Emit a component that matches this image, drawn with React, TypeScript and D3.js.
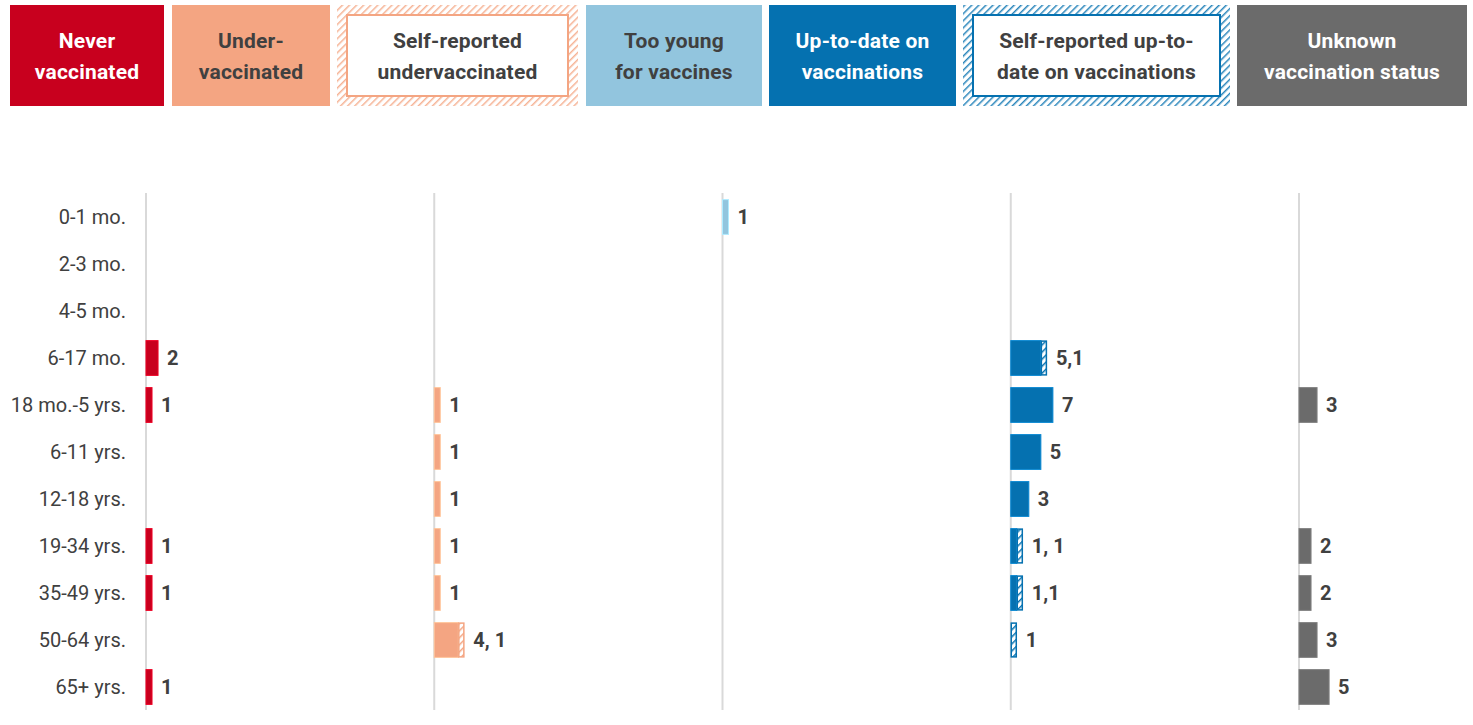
import React from "react";
import * as d3 from "d3";

const categories = [
  "0-1 mo.", "2-3 mo.", "4-5 mo.", "6-17 mo.", "18 mo.-5 yrs.", "6-11 yrs.",
  "12-18 yrs.", "19-34 yrs.", "35-49 yrs.", "50-64 yrs.", "65+ yrs.",
];
const neverVaccinated = [0, 0, 0, 2, 1, 0, 0, 1, 1, 0, 1];
const underVaccinated = [0, 0, 0, 0, 1, 1, 1, 1, 1, 4, 0];
const selfReportedUnder = [0, 0, 0, 0, 0, 0, 0, 0, 0, 1, 0];
const tooYoung = [1, 0, 0, 0, 0, 0, 0, 0, 0, 0, 0];
const upToDate = [0, 0, 0, 5, 7, 5, 3, 1, 1, 0, 0];
const selfReportedUpToDate = [0, 0, 0, 1, 0, 0, 0, 1, 1, 1, 0];
const unknownStatus = [0, 0, 0, 0, 3, 0, 0, 2, 2, 3, 5];

const underLabels = ["", "", "", "", "1", "1", "1", "1", "1", "4, 1", ""];
const upToDateLabels = ["", "", "", "5,1", "7", "5", "3", "1, 1", "1,1", "1", ""];

const legendItems = [
  { lines: ["Never", "vaccinated"], color: "#C8001E", hatched: false, text: "#ffffff" },
  { lines: ["Under-", "vaccinated"], color: "#F4A582", hatched: false, text: "#404040" },
  { lines: ["Self-reported", "undervaccinated"], color: "#F4A582", hatched: true, text: "#404040" },
  { lines: ["Too young", "for vaccines"], color: "#92C5DE", hatched: false, text: "#404040" },
  { lines: ["Up-to-date on", "vaccinations"], color: "#0571B0", hatched: false, text: "#ffffff" },
  { lines: ["Self-reported up-to-", "date on vaccinations"], color: "#0571B0", hatched: true, text: "#404040" },
  { lines: ["Unknown", "vaccination status"], color: "#6B6B6B", hatched: false, text: "#ffffff" },
];
const legendLayout = [
  { x: 10, w: 154 },
  { x: 172, w: 158 },
  { x: 337, w: 241 },
  { x: 586, w: 176 },
  { x: 769, w: 187 },
  { x: 963, w: 267 },
  { x: 1237, w: 230 },
];

const panels = [
  { key: "never", solid: neverVaccinated, hatched: null as number[] | null, color: "#C8001E", labels: neverVaccinated.map((v) => (v ? String(v) : "")) },
  { key: "under", solid: underVaccinated, hatched: selfReportedUnder, color: "#F4A582", labels: underLabels },
  { key: "young", solid: tooYoung, hatched: null, color: "#92C5DE", labels: tooYoung.map((v) => (v ? String(v) : "")) },
  { key: "uptodate", solid: upToDate, hatched: selfReportedUpToDate, color: "#0571B0", labels: upToDateLabels },
  { key: "unknown", solid: unknownStatus, hatched: null, color: "#6B6B6B", labels: unknownStatus.map((v) => (v ? String(v) : "")) },
];

const W = 1473;
const H = 725;
const FONT = "Roboto, 'Noto Sans', sans-serif";

export default function App() {
  const panelX = d3.scalePoint<string>().domain(panels.map((p) => p.key)).range([146, 1299]);
  const x = d3.scaleLinear().domain([0, 48]).range([0, 289]);
  const y = d3.scaleBand<string>().domain(categories).range([193.5, 710.5]).paddingInner(0.26).paddingOuter(0.13);
  const bw = y.bandwidth();

  const patternId = (c: string) => "hatch" + c.replace("#", "");
  const colors = Array.from(new Set(panels.map((p) => p.color)));

  return (
    <svg width={W} height={H} style={{ position: "absolute", left: 0, top: 0, background: "#fff" }} fontFamily={FONT}>
      <defs>
        {colors.map((c) => (
          <pattern key={c} id={patternId(c)} patternUnits="userSpaceOnUse" width={5} height={5} patternTransform="rotate(45)">
            <rect width={5} height={5} fill="#fff" />
            <line x1={0} y1={0} x2={0} y2={5} stroke={c} strokeWidth={3} />
          </pattern>
        ))}
      </defs>

      {/* Legend */}
      {legendItems.map((item, i) => {
        const L = legendLayout[i];
        const by = 5;
        const bh = 101;
        const cx = L.x + L.w / 2;
        return (
          <g key={i}>
            {item.hatched ? (
              <>
                <rect x={L.x} y={by} width={L.w} height={bh} fill={`url(#${patternId(item.color)})`} opacity={0.85} />
                <rect x={L.x + 10} y={by + 10} width={L.w - 20} height={bh - 20} fill="#fff" stroke={item.color} strokeWidth={2} />
              </>
            ) : (
              <rect x={L.x} y={by} width={L.w} height={bh} fill={item.color} />
            )}
            {item.lines.map((ln, j) => (
              <text key={j} x={cx} y={by + 36 + j * 31} textAnchor="middle" dominantBaseline="central" fontWeight={700} fontSize={21} fill={item.text} letterSpacing={0.2}>
                {ln}
              </text>
            ))}
          </g>
        );
      })}

      {/* Gridlines */}
      {panels.map((p) => (
        <line key={p.key} x1={panelX(p.key)} x2={panelX(p.key)} y1={193} y2={710} stroke="#d9d9d9" strokeWidth={2} />
      ))}

      {/* Category labels */}
      {categories.map((c) => (
        <text key={c} x={126} y={(y(c) as number) + bw / 2} textAnchor="end" dominantBaseline="central" fontSize={20} fill="#404040">
          {c}
        </text>
      ))}

      {/* Bars */}
      {panels.map((p) => {
        const x0 = panelX(p.key) as number;
        return (
          <g key={p.key}>
            {categories.map((c, i) => {
              const sv = p.solid[i];
              const hv = p.hatched ? p.hatched[i] : 0;
              if (!sv && !hv) return null;
              const yy = y(c) as number;
              const sw = x(sv);
              const hw = x(hv);
              const end = x0 + sw + hw;
              return (
                <g key={c}>
                  {sv > 0 && (
                    <rect x={x0} y={yy} width={sw} height={bw} fill={p.color} stroke={d3.color(p.color)!.brighter(0.5).formatHex()} strokeWidth={1} />
                  )}
                  {hv > 0 && (
                    <rect x={x0 + sw + 0.5} y={yy + 0.5} width={hw - 1} height={bw - 1} fill={`url(#${patternId(p.color)})`} stroke={p.color} strokeWidth={1.5} />
                  )}
                  <text x={end + 9} y={yy + bw / 2} dominantBaseline="central" fontSize={20} fontWeight={700} fill="#404040">
                    {p.labels[i]}
                  </text>
                </g>
              );
            })}
          </g>
        );
      })}
    </svg>
  );
}
